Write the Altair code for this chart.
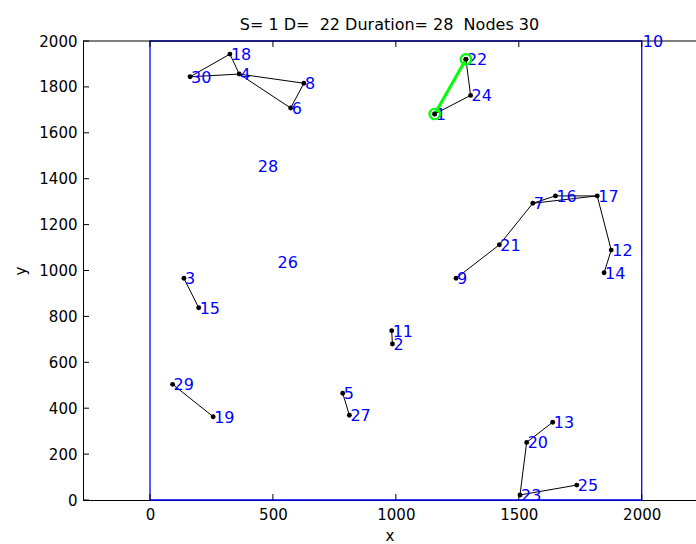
import altair as alt
import pandas as pd

# ---- data ----
node_ids = list(range(1, 31))
node_x = [1158, 986, 138, 363, 784, 572, 1557, 626, 1245, 2000,
          983, 1876, 1638, 1847, 198, 1649, 1819, 325, 257, 1532,
          1421, 1285, 1505, 1304, 1736, 515, 811, 434, 92, 163]
node_y = [1682, 680, 966, 1856, 465, 1708, 1293, 1816, 966, 2000,
          738, 1089, 339, 990, 838, 1325, 1325, 1943, 363, 251,
          1112, 1920, 22, 1763, 65, 1036, 369, 1457, 504, 1844]
edge_from = [30, 18, 30, 4, 8, 4, 22, 24, 3, 11, 29, 5, 13, 20, 23, 9, 21, 7, 16, 7, 17, 12]
edge_to   = [18, 4, 4, 8, 6, 6, 24, 1, 15, 2, 19, 27, 20, 23, 25, 21, 7, 16, 17, 17, 12, 14]
route_nodes = [1, 22]
box_x = [0, 2000, 2000, 0, 0]
box_y = [0, 0, 2000, 2000, 0]
x_ticks = [0, 500, 1000, 1500, 2000]
y_ticks = [0, 200, 400, 600, 800, 1000, 1200, 1400, 1600, 1800, 2000]
title_text = "S= 1 D=\u00a0 22 Duration= 28\u00a0 Nodes 30"

X = dict(zip(node_ids, node_x))
Y = dict(zip(node_ids, node_y))

nodes_df = pd.DataFrame({"id": node_ids, "x": node_x, "y": node_y, "label": [str(i) for i in node_ids]})
rows = []
for i, (a, b) in enumerate(zip(edge_from, edge_to)):
    rows.append({"edge": i, "ord": 0, "x": X[a], "y": Y[a]})
    rows.append({"edge": i, "ord": 1, "x": X[b], "y": Y[b]})
edges_df = pd.DataFrame(rows)
connected = sorted(set(edge_from) | set(edge_to) | set(route_nodes))
dots_df = pd.DataFrame({"x": [X[n] for n in connected], "y": [Y[n] for n in connected]})
route_df = pd.DataFrame({"ord": list(range(len(route_nodes))),
                         "x": [X[n] for n in route_nodes], "y": [Y[n] for n in route_nodes]})
box_df = pd.DataFrame({"ord": list(range(len(box_x))), "x": box_x, "y": box_y})
xt_df = pd.DataFrame({"x": x_ticks})
yt_df = pd.DataFrame({"y": y_ticks})

FONT = "DejaVu Sans"
W, H = 613, 459
xs = alt.Scale(domain=[-272.5, 2220.8], nice=False, zero=False)
ys = alt.Scale(domain=[0, 2000], nice=False, zero=False)
x_axis = alt.Axis(values=x_ticks, format="d", ticks=False, grid=False, labelPadding=7, titlePadding=6)
y_axis = alt.Axis(values=y_ticks, format="d", ticks=False, grid=False, labelPadding=6, titlePadding=10)


def XE(field="x"):
    return alt.X(f"{field}:Q", scale=xs, title="x", axis=x_axis)


def YE(field="y"):
    return alt.Y(f"{field}:Q", scale=ys, title="y", axis=y_axis)


box = alt.Chart(box_df).mark_line(color="#0000ff", strokeWidth=1.3).encode(
    x=XE(), y=YE(), order="ord:Q")

top_border = alt.Chart(pd.DataFrame({"a": [0]})).mark_rule(color="black", strokeWidth=1).encode(
    y=alt.value(0), x=alt.value(0), x2=alt.value(W))

ytick = alt.Chart(yt_df).mark_rule(color="black").encode(
    y=YE(), x=alt.value(0), x2=alt.value(6))
xtick_b = alt.Chart(xt_df).mark_rule(color="black").encode(
    x=XE(), y=alt.value(H), y2=alt.value(H - 6))
xtick_t = alt.Chart(xt_df).mark_rule(color="black").encode(
    x=XE(), y=alt.value(0), y2=alt.value(6))

edges = alt.Chart(edges_df).mark_line(color="black", strokeWidth=1).encode(
    x=XE(), y=YE(), detail="edge:N", order="ord:Q")

dots = alt.Chart(dots_df).mark_circle(color="black", opacity=1, size=24).encode(
    x=XE(), y=YE())

labels = alt.Chart(nodes_df).mark_text(
    color="#0000ff", font=FONT, fontSize=16, align="left", baseline="middle", dx=1, dy=1).encode(
    x=XE(), y=YE(), text="label:N")

route = alt.Chart(route_df).mark_line(color="#00ff00", strokeWidth=3).encode(
    x=XE(), y=YE(), order="ord:Q")
route_pts = alt.Chart(route_df).mark_point(color="#00ff00", filled=False, size=110, strokeWidth=2.2, opacity=1).encode(
    x=XE(), y=YE())
route_dots = alt.Chart(route_df).mark_circle(color="black", opacity=1, size=24).encode(
    x=XE(), y=YE())

chart = alt.layer(
    box, top_border, ytick, xtick_b, xtick_t, edges, dots, labels, route, route_pts, route_dots
).properties(
    width=W, height=H,
    padding={"left": 83, "top": 41, "right": 0, "bottom": 44},
    autosize="none",
    title=alt.TitleParams(title_text, font=FONT, fontSize=16, fontWeight="normal",
                          anchor="middle", color="black", offset=1),
).configure_view(stroke=None).configure_axis(
    labelFont=FONT, labelFontSize=15, labelColor="black",
    titleFont=FONT, titleFontSize=15, titleFontWeight="normal", titleColor="black",
    domainColor="black", domainWidth=1,
)

chart.save("out.html", embed_options={"renderer": "svg", "actions": False})
